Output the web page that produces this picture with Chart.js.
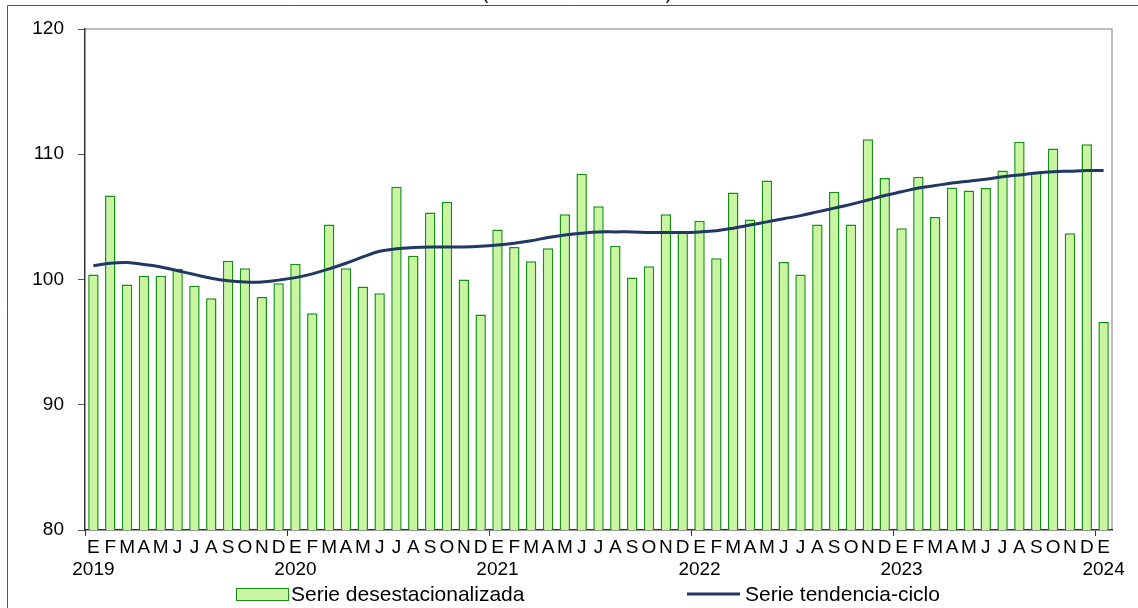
<!DOCTYPE html>
<html>
<head>
<meta charset="utf-8">
<script src="https://cdn.jsdelivr.net/npm/chart.js@4"></script>
<style>
  html, body { margin: 0; padding: 0; background: #fff; }
  #wrap { width: 1138px; height: 608px; position: relative; }
</style>
</head>
<body>
<div id="wrap"><canvas id="chart" width="1138" height="608"></canvas></div>
<script>
// data
const meses = ["E", "F", "M", "A", "M", "J", "J", "A", "S", "O", "N", "D"];
const anios = ["2019", "2020", "2021", "2022", "2023", "2024"];
const yTicks = [80, 90, 100, 110, 120];
const subtitulo = "(Índice base 2018=100)";
const nombreBarras = "Serie desestacionalizada";
const nombreLinea = "Serie tendencia-ciclo";

const desestacionalizada = [
    100.4, 106.7, 99.6, 100.3, 100.3, 100.85, 99.5, 98.5, 101.5, 100.9, 98.6, 99.7,
    101.25, 97.3, 104.4, 100.9, 99.45, 98.9, 107.4, 101.9, 105.35, 106.2, 100.0, 97.2,
    104.0, 102.6, 101.45, 102.5, 105.2, 108.45, 105.85, 102.7, 100.15, 101.05, 105.2, 103.8,
    104.7, 101.7, 106.95, 104.8, 107.9, 101.4, 100.4, 104.4, 107.0, 104.4, 111.2, 108.1,
    104.1, 108.2, 105.0, 107.35, 107.1, 107.3, 108.7, 111.0, 108.6, 110.45, 103.7, 110.8,
    96.6
];
const tendencia = [
    101.1, 101.3, 101.35, 101.2, 101.0, 100.7, 100.4, 100.1, 99.9, 99.8, 99.8, 99.95,
    100.15, 100.45, 100.85, 101.3, 101.8, 102.25, 102.45, 102.55, 102.6, 102.6, 102.6, 102.65,
    102.75, 102.9, 103.1, 103.35, 103.55, 103.7, 103.8, 103.8, 103.8, 103.75, 103.75, 103.75,
    103.8, 103.9, 104.1, 104.35, 104.6, 104.85, 105.1, 105.4, 105.7, 106.0, 106.35, 106.7,
    107.0, 107.3, 107.5, 107.7, 107.85, 108.0, 108.2, 108.35, 108.5, 108.6, 108.65, 108.7,
    108.7
];

const colorBarra = "#c9f4a0";
const bordeBarra = "#168f16";
const colorLinea = "#1f3864";
const fuente = "'Liberation Sans', Arial, sans-serif";

// labels: month letter, with the year under every January
let etiquetas = [];
for (let i = 0; i < desestacionalizada.length; i++) {
    let m = meses[i % 12];
    if (i % 12 === 0) {
        etiquetas.push([m, anios[Math.floor(i / 12)]]);
    } else {
        etiquetas.push(m);
    }
}

// frame, plot border, subtitle and legend
const extras = {
    id: "extras",
    beforeDraw(chart) {
        const c = chart.ctx;
        const a = chart.chartArea;
        c.save();
        c.strokeStyle = "#555";
        c.lineWidth = 1;
        c.beginPath();
        c.moveTo(7.5, 608);
        c.lineTo(7.5, 5.5);
        c.lineTo(1138, 5.5);
        c.stroke();

        c.strokeStyle = "#a6a6a6";
        c.lineWidth = 1.5;
        c.beginPath();
        c.moveTo(a.left, a.top);
        c.lineTo(a.right, a.top);
        c.lineTo(a.right, a.bottom);
        c.stroke();

        c.fillStyle = "#000";
        c.font = "18px " + fuente;
        c.textAlign = "center";
        c.textBaseline = "bottom";
        c.fillText(subtitulo, 577, 3);
        c.restore();
    },
    afterDraw(chart) {
        const c = chart.ctx;
        c.save();
        c.font = "21px " + fuente;
        c.textBaseline = "middle";

        c.fillStyle = colorBarra;
        c.fillRect(236, 588, 52, 12);
        c.strokeStyle = bordeBarra;
        c.lineWidth = 1;
        c.strokeRect(236.5, 588.5, 52, 12);
        c.fillStyle = "#000";
        c.fillText(nombreBarras, 291, 595);

        c.strokeStyle = colorLinea;
        c.lineWidth = 3;
        c.beginPath();
        c.moveTo(687, 594);
        c.lineTo(740, 594);
        c.stroke();
        c.fillText(nombreLinea, 745, 595);
        c.restore();
    }
};

const ctx = document.getElementById("chart").getContext("2d");
const chart = new Chart(ctx, {
    data: {
        labels: etiquetas,
        datasets: [
            {
                type: "line",
                label: nombreLinea,
                data: tendencia,
                borderColor: colorLinea,
                borderWidth: 3,
                pointRadius: 0,
                tension: 0.4,
                fill: false,
                order: 1
            },
            {
                type: "bar",
                label: nombreBarras,
                data: desestacionalizada,
                backgroundColor: colorBarra,
                borderColor: bordeBarra,
                borderWidth: 1.5,
                borderSkipped: "bottom",
                categoryPercentage: 1,
                barPercentage: 0.62,
                order: 2
            }
        ]
    },
    options: {
        responsive: false,
        animation: false,
        layout: { padding: { left: 0, top: 29, right: 26, bottom: 0 } },
        plugins: {
            legend: { display: false },
            tooltip: { enabled: false }
        },
        scales: {
            x: {
                offset: true,
                grid: {
                    offset: true,
                    drawOnChartArea: false,
                    tickLength: 6,
                    color: (c) => (c.index % 12 === 0 ? "#333" : "rgba(0,0,0,0)")
                },
                border: { color: "#333", width: 1.5 },
                ticks: {
                    autoSkip: false,
                    maxRotation: 0,
                    minRotation: 0,
                    padding: 0,
                    color: "#000",
                    font: { family: fuente, size: 19, lineHeight: 1.2 }
                },
                afterFit: (s) => { s.height = 78; }
            },
            y: {
                min: yTicks[0],
                max: yTicks[yTicks.length - 1],
                afterBuildTicks: (s) => { s.ticks = yTicks.map(v => ({ value: v })); },
                grid: { drawOnChartArea: false, tickLength: 7, color: "#555" },
                border: { color: "#333", width: 1.5 },
                ticks: {
                    padding: 14,
                    color: "#000",
                    font: { family: fuente, size: 19 }
                },
                afterFit: (s) => { s.width = 85; }
            }
        }
    },
    plugins: [extras]
});
</script>
</body>
</html>
